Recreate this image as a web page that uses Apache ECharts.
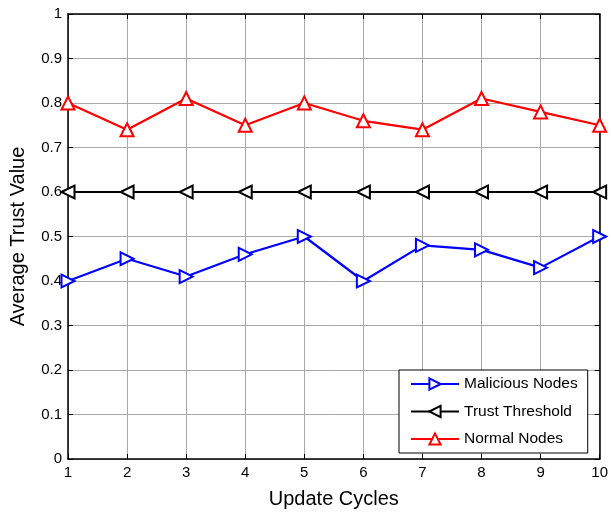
<!DOCTYPE html>
<html><head><meta charset="utf-8">
<script src="https://cdn.jsdelivr.net/npm/echarts@6/dist/echarts.min.js"></script>
<style>html,body{margin:0;padding:0;background:#fff}#c{width:611px;height:515px}</style>
</head><body><div id="c"></div>
<script>
const cycles = [1,2,3,4,5,6,7,8,9,10];
const malicious = [0.40,0.45,0.41,0.46,0.50,0.40,0.48,0.47,0.43,0.50];
const threshold = [0.60,0.60,0.60,0.60,0.60,0.60,0.60,0.60,0.60,0.60];
const normal = [0.80,0.74,0.81,0.75,0.80,0.76,0.74,0.81,0.78,0.75];
const seriesNames = ['Malicious Nodes','Trust Threshold','Normal Nodes'];
const xTitle = 'Update Cycles';
const yTitle = 'Average Trust Value';

const F = 'Liberation Sans, Arial, sans-serif';
function pairs(v){ return cycles.map((c,i)=>[c,v[i]]); }
function mk(name, data, color, rot){
  return {name, type:'line', data:pairs(data), symbol:'triangle', symbolSize:13, symbolRotate:rot,
    lineStyle:{color, width:2.2}, itemStyle:{color:'#fff', borderColor:color, borderWidth:2},
    emphasis:{disabled:true}, z: 3};
}
const axLine = {onZero:false, lineStyle:{color:'#000', width:1.5}};
const tick = {inside:true, length:5, lineStyle:{color:'#000'}};
const chart = echarts.init(document.getElementById('c'));
chart.setOption({
  animation:false,
  backgroundColor:'#fff',
  grid:{left:66, right:9, top:14, bottom:56},
  xAxis:[{type:'value', min:1, max:10, interval:1, position:'bottom',
    name:xTitle, nameLocation:'middle', nameGap:30, nameTextStyle:{fontFamily:F, fontSize:20, color:'#000'},
    axisLine:axLine, axisTick:tick,
    axisLabel:{fontFamily:F, fontSize:15, color:'#000', margin:6},
    splitLine:{show:true, lineStyle:{color:'#a8a8a8', width:1}}},
   {type:'value', min:1, max:10, interval:1, position:'top',
    axisLine:axLine, axisTick:tick, axisLabel:{show:false}, splitLine:{show:false}}],
  yAxis:[{type:'value', min:0, max:1, interval:0.1, position:'left',
    name:yTitle, nameLocation:'middle', nameGap:40, nameTextStyle:{fontFamily:F, fontSize:20, color:'#000'},
    axisLine:axLine, axisTick:tick,
    axisLabel:{fontFamily:F, fontSize:15, color:'#000', margin:6, formatter:v=>String(Math.round(v*10)/10)},
    splitLine:{show:true, lineStyle:{color:'#a8a8a8', width:1}}},
   {type:'value', min:0, max:1, interval:0.1, position:'right',
    axisLine:axLine, axisTick:tick, axisLabel:{show:false}, splitLine:{show:false}}],
  legend:{orient:'vertical', left:399, top:370, width:192, padding:[6,10,6,11], itemGap:11.5,
    itemWidth:48, itemHeight:14, backgroundColor:'#fff', borderColor:'#000', borderWidth:1,
    textStyle:{fontFamily:F, fontSize:15.5, color:'#000', padding:[0,0,0,0]}, data:seriesNames},
  series:[
    mk(seriesNames[0], malicious, '#0000ff', -90),
    mk(seriesNames[1], threshold, '#000000', 90),
    mk(seriesNames[2], normal, '#ff0000', 0)
  ]
});
</script></body></html>
